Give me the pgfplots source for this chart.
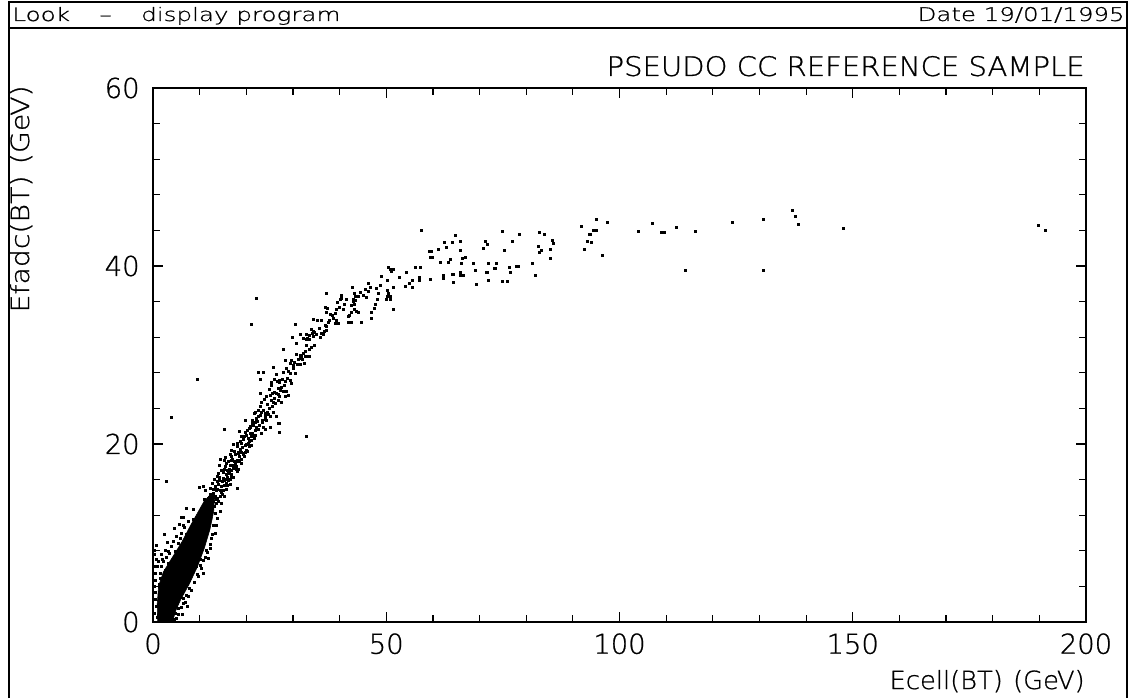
\documentclass[border=0pt]{standalone}
\usepackage{fontspec}
\setmainfont{DejaVu Sans ExtraLight}[FakeBold=0.8]
\usepackage{graphicx}
\usepackage{pgfplots}
\usepackage{pgfplotstable}
\pgfplotsset{compat=1.18}
\newcommand\ticksize{\fontsize{13.7}{16}\selectfont}
\pgfplotstableread{
x y
93.6 43.6
94.0 42.6
94.4 44.0
95.1 44.0
95.1 45.2
96.4 41.2
97.3 44.9
104.1 43.9
107.0 44.8
108.9 43.8
109.6 43.8
112.1 44.3
114.1 39.5
116.2 43.9
124.2 44.9
130.8 39.5
130.9 45.2
137.1 46.3
137.8 45.6
138.4 44.7
147.9 44.2
189.8 44.6
191.3 44.0
57.5 44.0
64.8 43.4
62.4 42.6
64.2 42.7
66.0 42.8
62.8 42.1
61.2 41.9
59.2 41.6
59.6 41.6
65.9 41.8
59.4 41.0
59.8 41.0
66.3 40.8
66.9 41.0
61.6 40.4
63.8 40.7
63.3 40.4
66.2 40.3
68.7 40.3
71.3 42.8
71.6 42.4
70.9 42.0
75.0 43.9
78.6 43.5
77.1 42.8
75.4 41.8
82.9 43.8
83.9 43.6
82.6 42.2
83.2 41.7
82.9 41.5
85.6 42.9
85.9 42.5
85.1 41.9
85.2 40.8
81.3 40.3
82.0 39.0
91.9 44.5
93.7 43.5
93.1 42.8
92.5 41.9
72.0 40.3
73.6 40.3
71.4 39.3
71.7 39.3
73.1 39.7
73.3 39.7
69.2 39.5
76.3 39.8
76.6 39.3
77.9 40.0
78.3 40.0
75.0 38.3
76.0 38.3
71.9 38.4
69.4 37.9
64.2 39.1
64.5 39.1
65.9 39.3
66.6 39.0
65.9 38.9
64.5 38.2
62.2 38.9
62.2 38.6
59.4 38.5
57.3 39.9
56.3 39.8
57.1 38.7
57.1 38.4
55.6 38.4
55.0 38.0
54.4 39.3
54.2 37.7
55.5 37.6
52.9 38.7
51.6 37.6
50.5 39.9
50.9 39.6
51.1 39.4
51.6 39.6
50.2 38.4
49.0 38.8
48.8 37.8
50.2 37.3
50.5 36.9
50.2 36.6
50.9 36.6
50.1 36.3
50.9 36.2
51.5 35.1
47.9 37.5
48.4 36.9
48.1 36.2
47.7 35.7
47.4 35.2
46.8 34.8
46.8 34.1
45.8 36.5
46.1 37.1
46.5 37.6
46.2 38.1
45.6 37.4
44.6 33.7
45.1 36.7
44.5 37.0
44.1 36.6
43.4 36.6
43.1 36.9
42.8 37.6
43.0 36.3
42.9 36.0
42.6 35.6
43.1 35.7
43.4 36.1
43.7 34.9
44.1 34.8
43.2 35.1
42.6 34.8
41.9 34.3
42.2 34.5
42.6 33.7
41.9 33.7
41.5 36.3
41.1 35.7
40.9 35.1
40.3 36.7
40.4 36.4
39.6 35.9
39.9 35.4
40.1 36.2
39.4 35.1
39.0 34.7
38.7 34.1
39.4 33.9
38.4 34.5
38.1 34.6
37.9 33.9
39.0 33.6
39.7 33.5
37.1 36.9
37.0 35.4
37.4 35.2
37.1 34.8
37.5 33.7
37.2 33.2
36.9 33.3
37.1 32.8
36.1 33.9
35.2 33.9
34.4 34.0
35.6 33.0
34.4 32.7
34.1 32.4
34.0 32.9
34.6 32.5
33.6 32.2
33.5 31.8
33.2 31.9
32.8 31.7
32.9 32.3
32.2 31.9
34.4 32.1
35.1 32.3
35.9 32.0
36.5 32.3
36.7 32.6
36.1 32.4
34.7 31.1
34.0 30.8
33.5 30.6
32.9 31.1
32.6 30.4
32.2 30.2
31.9 29.8
32.6 29.8
33.3 29.8
33.6 29.8
32.4 29.1
31.7 29.0
32.1 29.5
31.5 30.0
22.1 36.4
21.1 33.4
27.9 30.6
30.6 33.4
29.9 32.0
30.8 31.3
31.5 32.3
32.9 20.8
3.9 23.0
2.9 15.8
9.5 27.3
22.6 28.1
23.6 28.0
23.1 27.3
23.1 25.7
23.3 24.7
25.9 28.6
26.4 27.8
26.6 27.0
25.4 26.6
25.1 25.5
25.6 25.7
25.8 24.7
24.9 24.0
24.5 23.6
24.0 23.4
23.3 23.5
23.6 23.8
23.1 23.2
22.6 23.1
22.1 22.9
21.7 23.4
21.4 22.7
21.9 22.4
22.4 22.5
22.9 22.1
23.6 21.9
22.2 21.9
20.8 21.9
27.2 27.2
27.6 26.4
26.9 26.2
26.5 25.7
26.1 25.1
26.9 24.9
27.2 25.3
27.9 25.9
28.4 27.0
28.6 25.9
28.3 25.3
27.6 24.7
29.0 25.5
29.4 27.1
29.7 26.8
28.0 28.0
29.0 28.2
29.4 29.1
28.6 28.5
30.1 28.8
29.7 29.4
28.3 29.4
30.4 29.2
30.6 27.9
31.2 29.5
30.8 30.1
25.8 23.6
25.1 23.1
26.5 23.1
26.9 22.3
24.4 22.7
24.1 23.1
23.4 22.6
25.1 21.9
15.2 21.6
27.1 21.3
27.1 22.3
22.6 21.6
21.9 21.0
23.3 21.2
24.0 21.6
21.1 20.8
20.1 21.0
19.4 20.9
19.0 20.1
19.7 19.9
18.0 20.1
20.4 20.1
20.1 19.3
19.4 19.0
18.6 18.6
18.3 19.1
18.1 18.2
17.6 17.8
17.2 17.3
17.8 17.1
16.5 18.8
15.8 17.8
15.4 17.1
16.2 16.7
16.9 16.3
16.5 16.0
15.8 15.6
14.4 18.3
14.0 16.7
14.7 15.2
15.1 14.8
15.4 14.1
14.4 14.1
13.6 14.8
13.3 15.2
12.9 14.5
12.6 13.7
12.2 13.3
13.6 13.3
12.9 13.0
11.9 12.8
11.2 13.3
11.2 12.6
10.8 12.2
10.1 12.4
10.1 11.8
11.5 12.2
12.2 11.8
13.3 12.2
10.8 15.2
11.2 14.8
9.9 15.1
8.6 12.7
7.2 12.8
6.5 11.8
6.0 11.8
8.6 11.5
9.4 11.1
10.1 11.1
10.8 10.7
9.0 10.7
9.7 10.5
11.5 11.1
11.9 10.7
18.1 15.0
16.0 15.4
16.9 18.2
18.3 17.1
12.0 14.0
13.0 14.2
13.8 15.8
14.3 16.2
15.0 16.8
15.6 17.5
16.2 18.0
16.8 18.6
17.4 19.2
18.0 19.7
18.8 20.3
19.4 20.5
14.8 15.8
13.9 14.9
12.8 13.9
11.8 13.9
13.5 13.8
15.9 16.3
16.6 17.6
17.1 18.3
17.7 18.8
19.2 19.6
20.5 20.6
21.4 21.2
20.9 22.0
14.6 17.0
15.3 18.2
16.0 17.0
17.9 18.0
19.0 19.1
20.0 20.0
21.0 20.4
13.2 16.0
12.4 15.0
11.0 13.8
11.5 13.5
12.3 14.3
12.9 14.9
13.4 14.1
14.1 15.5
14.5 14.8
15.2 15.9
15.7 16.6
16.3 17.2
16.9 17.0
17.5 18.1
18.2 18.9
18.7 19.4
19.6 20.8
20.2 21.5
20.8 21.2
21.6 22.1
22.2 22.6
12.7 15.6
13.7 16.4
14.2 17.6
15.6 18.5
16.7 19.3
17.3 20.0
18.5 21.4
19.9 22.6
12.1 12.7
13.1 13.0
14.0 13.5
14.9 14.3
15.8 14.9
16.6 15.5
17.3 16.3
18.0 16.9
18.9 17.8
19.6 18.6
20.3 19.2
21.1 19.9
21.8 20.6
13.4 15.0
14.2 15.9
15.0 16.1
15.5 16.0
16.4 16.8
17.0 17.6
17.6 17.5
18.4 18.2
19.0 18.3
19.8 19.1
20.6 19.7
11.3 12.0
12.0 12.4
12.6 12.6
13.0 13.6
13.9 13.9
14.6 14.6
15.3 15.3
16.1 15.9
16.8 16.6
17.9 17.5
18.6 18.0
19.3 18.8
20.7 20.3
21.3 20.9
22.0 21.5
22.8 22.1
23.4 22.4
24.2 22.8
24.8 23.3
25.5 24.2
26.2 24.6
26.8 25.6
27.4 26.0
28.1 26.6
28.8 27.4
29.5 27.9
30.2 28.5
31.0 28.9
31.7 29.6
22.5 23.8
23.0 24.2
23.8 25.0
24.4 25.3
24.9 26.1
25.3 26.9
26.0 27.3
24.6 24.4
25.3 24.9
26.0 25.8
27.0 26.9
27.8 27.3
22.0 23.5
21.2 22.3
20.6 21.8
19.8 21.3
19.0 20.8
6.5 10.9
6.1 10.0
4.0 8.5
2.6 8.1
2.9 7.3
2.2 6.8
1.9 6.2
1.5 5.5
1.6 4.9
2.1 4.5
1.4 4.2
2.6 5.8
3.3 6.6
3.6 7.7
4.7 7.9
5.4 8.8
5.8 9.4
7.2 9.8
8.0 10.3
8.6 11.1
2.0 7.0
3.2 7.9
4.3 9.1
5.0 9.6
6.8 10.6
7.5 11.3
1.2 6.8
1.8 7.6
3.0 9.0
2.4 9.8
4.6 10.5
5.6 11.0
13.0 10.9
13.3 10.0
12.6 9.4
12.2 8.7
11.5 8.1
11.2 7.3
10.1 7.0
9.4 6.2
8.6 5.7
7.9 5.1
7.2 4.5
6.5 4.0
6.1 3.4
5.8 2.8
5.1 2.3
4.7 1.7
4.4 1.2
4.0 0.6
5.4 1.5
6.5 2.7
7.2 3.0
7.9 3.8
9.7 5.1
10.4 6.0
11.9 7.2
10.8 5.5
6.5 2.1
3.6 0.2
5.1 0.4
4.6 0.3
5.5 0.9
6.0 1.6
6.9 2.2
7.6 2.9
8.3 3.6
8.9 4.4
9.5 5.3
10.2 6.4
10.9 6.9
11.6 7.8
12.3 8.3
12.8 9.9
13.5 10.8
13.9 11.6
14.4 12.4
14.6 13.3
3.9 0.1
4.8 1.0
6.2 0.9
7.3 1.7
0.3 1.0
0.5 2.5
0.4 4.0
0.6 5.5
0.8 7.0
0.2 8.0
0.5 3.3
0.7 1.8
0.3 6.2
0.9 0.5
0.6 4.7
1.0 6.3
0.4 7.6
0.7 8.6
}\scatterdata
\begin{document}
\begin{tikzpicture}[x=1pt,y=1pt]
\path[use as bounding box] (0,0) rectangle (564,349);
% frame
\draw[line width=0.6pt] (4.5,0) -- (4.5,348) -- (563.5,348) -- (563.5,0);
\draw[line width=0.6pt] (4.5,335) -- (563.5,335);
\node[anchor=base west, inner sep=0pt] at (6,338.5) {\resizebox{164pt}{7pt}{Look\hspace{1.2em}--\hspace{1.2em}display program}};
\node[anchor=base east, inner sep=0pt] at (562.5,338.5) {\resizebox{103.5pt}{7pt}{Date 19/01/1995}};
\node[anchor=base east, inner sep=0pt] at (542.5,311) {\resizebox{239pt}{10pt}{PSEUDO CC REFERENCE SAMPLE}};
\node[anchor=base east, inner sep=0pt] at (542.5,4.5) {\resizebox{97.5pt}{9.5pt}{Ecell(BT)\hspace{0.4em}(GeV)}};
\node[anchor=base east, inner sep=0pt, rotate=90] at (14.5,306.5) {\resizebox{113.5pt}{9.5pt}{Efadc(BT)\hspace{0.4em}(GeV)}};
\begin{axis}[
  at={(76.5pt,38pt)}, anchor=south west,
  scale only axis, width=466.5pt, height=267pt,
  xmin=0, xmax=200, ymin=0, ymax=60,
  xtick={0,50,100,150,200}, ytick={0,20,40,60},
  minor x tick num=4, minor y tick num=4,
  tick align=inside, major tick length=5pt, minor tick length=3.5pt,
  axis line style={line width=0.6pt},
  every tick/.style={line width=0.6pt, black},
  xticklabel style={anchor=north, inner sep=0pt, yshift=-5.5pt, font=\ticksize},
  yticklabel style={anchor=east, inner sep=0pt, xshift=-6.5pt, font=\ticksize},
  /pgf/number format/assume math mode=true,
]
\addplot[fill=black, draw=black, line width=0.3pt] coordinates {
(1.0,0) (0.9,2) (1.2,4) (2.2,5.6) (4.2,7.3) (6.2,9.0) (8.0,10.8) (9.6,12.3) (11.0,13.6) (12.3,14.3) (13.2,14.0) (13.0,12.4) (12.2,10.4) (11.0,8.3) (9.5,6.2) (7.8,4.3) (6.0,2.6) (4.8,1.2) (4.2,0)
} -- cycle;
\addplot[only marks, mark=square*, mark size=0.5pt, mark options={draw=none, fill=black}] table {\scatterdata};
\end{axis}
\end{tikzpicture}
\end{document}
